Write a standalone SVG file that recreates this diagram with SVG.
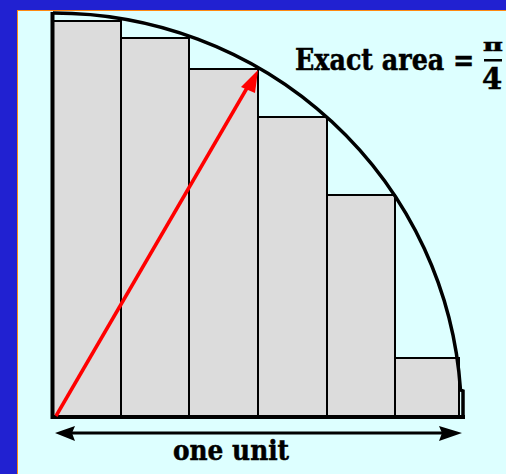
<svg xmlns="http://www.w3.org/2000/svg" width="506" height="474" viewBox="0 0 506 474">
  <defs>
    <style>
      .bar { fill: #dcdcdc; stroke: #000; stroke-width: 2; }
      .txt { font-family: "DejaVu Serif", "Liberation Serif", serif; font-weight: bold; fill: #000; stroke: #000; stroke-width: 0.5; }
      .ink { fill: #000; }
    </style>
  </defs>
  <rect x="0" y="0" width="506" height="474" fill="#2121d1"/>
  <rect x="17" y="10" width="489" height="464" fill="#ff8a10"/>
  <rect x="18" y="11" width="488" height="463" fill="#ddffff"/>

  <g id="bars">
    <rect id="bar1" class="bar" x="53" y="21" width="68" height="396"/>
    <rect id="bar2" class="bar" x="121" y="38" width="68" height="379"/>
    <rect id="bar3" class="bar" x="189" y="69" width="69" height="348"/>
    <rect id="bar4" class="bar" x="258" y="117" width="69" height="300"/>
    <rect id="bar5" class="bar" x="327" y="195" width="68" height="222"/>
    <rect id="bar6" class="bar" x="395" y="358" width="64" height="59"/>
  </g>

  <g id="quarter-circle">
    <path d="M53,13 A408,404 0 0 1 460.5,390 L463,391 L463,417" fill="none" stroke="#000" stroke-width="3.5"/>
    <line x1="52.5" y1="12" x2="52.5" y2="419" stroke="#000" stroke-width="4"/>
    <line x1="51" y1="417" x2="465" y2="417" stroke="#000" stroke-width="4"/>
  </g>

  <g id="connectors">
    <g id="radius-arrow">
      <line x1="56" y1="416" x2="247" y2="88" stroke="#ff0000" stroke-width="3.5"/>
      <polygon points="258,70 255,93 241,87" fill="#ff0000"/>
    </g>
    <g id="unit-arrow">
      <line x1="65" y1="433" x2="452" y2="433" stroke="#000" stroke-width="3"/>
      <polygon class="ink" points="55,433 75,426 72,433 75,441"/>
      <polygon class="ink" points="462,433 439,426 442,433 439,441"/>
    </g>
  </g>

  <g id="label-area">
    <text class="txt" transform="translate(295,70) scale(0.875,1)" x="0" y="0" font-size="29">Exact area =</text>
    <text class="txt" transform="translate(493,51) scale(1.6,1)" x="0" y="0" font-size="17" text-anchor="middle">π</text>
    <rect class="ink" x="484" y="59" width="18" height="2.5"/>
    <text class="txt" x="492" y="89" font-size="29" text-anchor="middle">4</text>
  </g>

  <g id="label-unit">
    <text class="txt" transform="translate(173,460) scale(0.92,1)" x="0" y="0" font-size="27">one unit</text>
  </g>
</svg>
